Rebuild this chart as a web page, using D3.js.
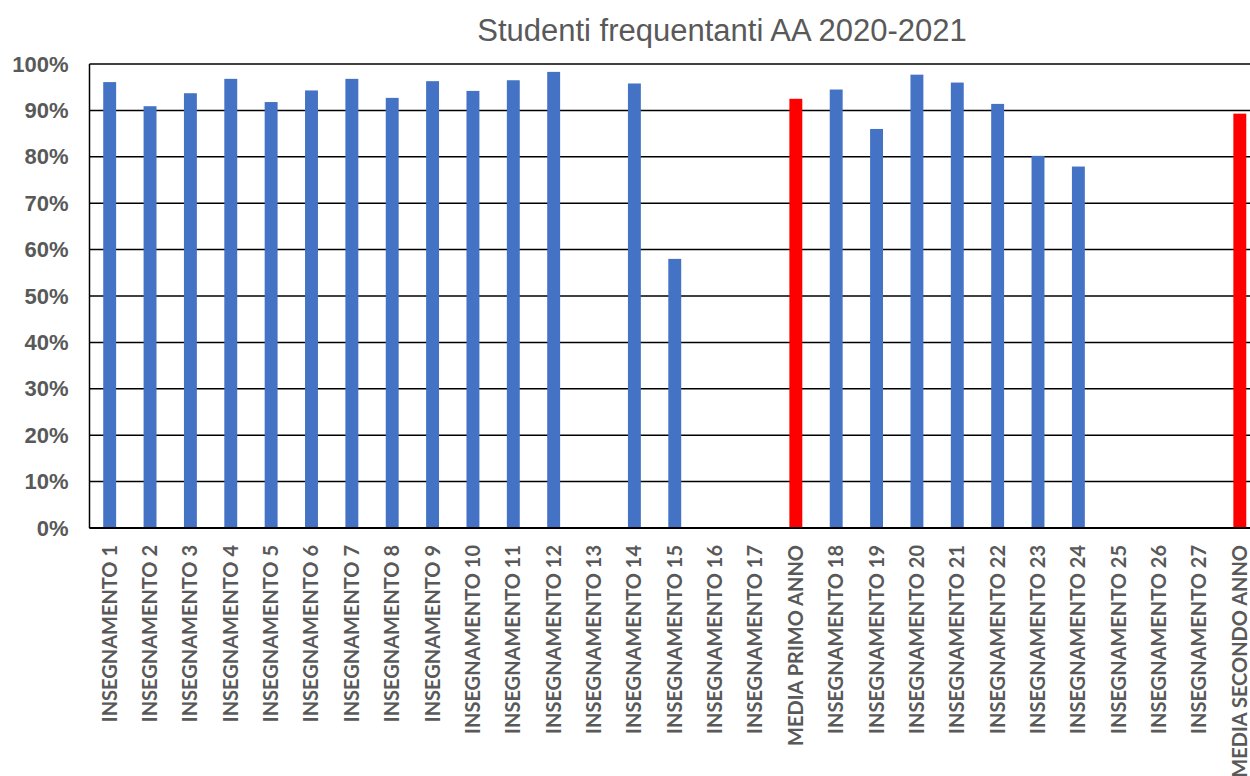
<!DOCTYPE html>
<html>
<head>
<meta charset="utf-8">
<script src="https://cdn.jsdelivr.net/npm/d3@7"></script>
<style>
  body { margin: 0; background: #fff; }
  .ylab text { font-family: "Liberation Sans", Arial, sans-serif; font-weight: bold; font-size: 22px; fill: #595959; }
  .xlab text { font-family: Lato, "Open Sans", sans-serif; font-weight: bold; font-size: 20px; fill: #595959; }
</style>
</head>
<body>
<svg id="chart" width="1250" height="776"></svg>
<script>
// categories along the x axis
var categories = [
  "INSEGNAMENTO 1", "INSEGNAMENTO 2", "INSEGNAMENTO 3", "INSEGNAMENTO 4", "INSEGNAMENTO 5",
  "INSEGNAMENTO 6", "INSEGNAMENTO 7", "INSEGNAMENTO 8", "INSEGNAMENTO 9", "INSEGNAMENTO 10",
  "INSEGNAMENTO 11", "INSEGNAMENTO 12", "INSEGNAMENTO 13", "INSEGNAMENTO 14", "INSEGNAMENTO 15",
  "INSEGNAMENTO 16", "INSEGNAMENTO 17", "MEDIA PRIMO ANNO", "INSEGNAMENTO 18", "INSEGNAMENTO 19",
  "INSEGNAMENTO 20", "INSEGNAMENTO 21", "INSEGNAMENTO 22", "INSEGNAMENTO 23", "INSEGNAMENTO 24",
  "INSEGNAMENTO 25", "INSEGNAMENTO 26", "INSEGNAMENTO 27", "MEDIA SECONDO ANNO"
];
// percent of students attending (null = no bar)
var values = [
  96.1, 90.9, 93.7, 96.8, 91.8,
  94.3, 96.8, 92.7, 96.3, 94.2,
  96.5, 98.3, null, 95.8, 58.0,
  null, null, 92.5, 94.5, 86.0,
  97.7, 96.0, 91.4, 80.2, 77.9,
  null, null, null, 89.3
];
var averages = ["MEDIA PRIMO ANNO", "MEDIA SECONDO ANNO"];
var yTicks = [0, 10, 20, 30, 40, 50, 60, 70, 80, 90, 100];
var title = "Studenti frequentanti AA 2020-2021";

var svg = d3.select("#chart");
var plotLeft = 89.5, plotRight = 1260, plotTop = 64, plotBottom = 528;

var x = d3.scaleBand().domain(categories).range([plotLeft, plotRight]).paddingInner(0.68).paddingOuter(0.34);
var y = d3.scaleLinear().domain([0, 100]).range([plotBottom, plotTop]);

// gridlines
svg.append("g")
  .selectAll("line")
  .data(yTicks)
  .enter()
  .append("line")
  .attr("x1", plotLeft).attr("x2", plotRight)
  .attr("y1", function(d) { return y(d); })
  .attr("y2", function(d) { return y(d); })
  .style("stroke", "#000")
  .style("stroke-width", 1.5);

// y axis labels
svg.append("g")
  .attr("class", "ylab")
  .attr("transform", "translate(" + plotLeft + ",0)")
  .call(d3.axisLeft(y).tickValues(yTicks).tickSize(0).tickPadding(21).tickFormat(function(d) { return d + "%"; }))
  .call(function(g) { g.select(".domain").remove(); });

// bars
svg.append("g")
  .selectAll("rect")
  .data(categories.map(function(c, i) { return { cat: c, v: values[i] }; }).filter(function(d) { return d.v != null; }))
  .enter()
  .append("rect")
  .attr("x", function(d) { return x(d.cat); })
  .attr("width", x.bandwidth())
  .attr("y", function(d) { return y(d.v); })
  .attr("height", function(d) { return y(0) - y(d.v); })
  .style("fill", function(d) { return averages.indexOf(d.cat) >= 0 ? "#FF0000" : "#4472C4"; });

// axis lines
svg.append("line")
  .attr("x1", plotLeft).attr("x2", plotLeft).attr("y1", plotTop).attr("y2", plotBottom)
  .style("stroke", "#000").style("stroke-width", 1.5);
svg.append("line")
  .attr("x1", plotLeft).attr("x2", plotRight).attr("y1", plotBottom).attr("y2", plotBottom)
  .style("stroke", "#000").style("stroke-width", 2);

// x labels, rotated
svg.append("g")
  .attr("class", "xlab")
  .selectAll("text")
  .data(categories)
  .enter()
  .append("text")
  .attr("transform", function(d) { return "translate(" + (x(d) + x.bandwidth() / 2 + 7) + "," + (plotBottom + 17) + ") rotate(-90)"; })
  .attr("text-anchor", "end")
  .text(function(d) { return d; });

// title
svg.append("text")
  .attr("x", 722)
  .attr("y", 41)
  .attr("text-anchor", "middle")
  .style("font-family", "'Liberation Sans', Arial, sans-serif")
  .style("font-size", "31px")
  .style("fill", "#595959")
  .text(title);
</script>
</body>
</html>
